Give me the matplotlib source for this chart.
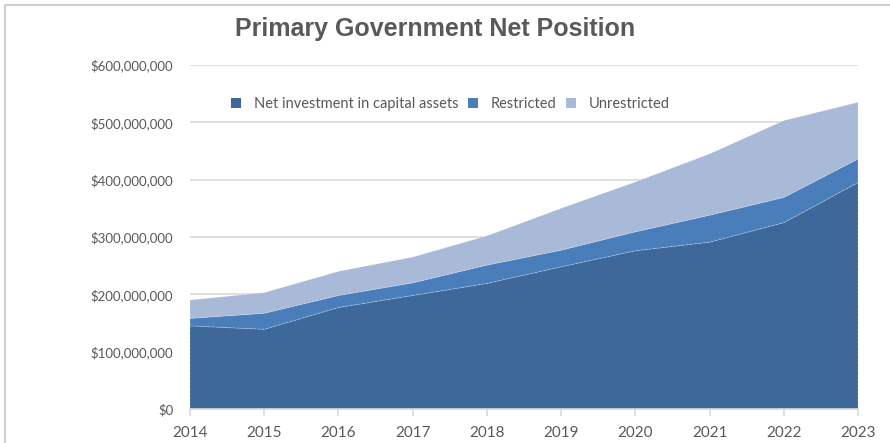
"""Primary government net position, stacked by component."""

import matplotlib

matplotlib.use("Agg")
import matplotlib.pyplot as plt
from matplotlib.patches import Patch, Rectangle
from matplotlib.ticker import FuncFormatter

years = [2014, 2015, 2016, 2017, 2018, 2019, 2020, 2021, 2022, 2023]
# millions of dollars
net_investment = [145, 139, 177, 198, 219, 248, 276, 291, 325, 395]
restricted = [13, 28, 21, 22, 32, 29, 33, 47, 44, 41]
unrestricted = [32, 36, 42, 45, 51, 73, 87, 107, 134, 99]

labels = ["Net investment in capital assets", "Restricted", "Unrestricted"]
colors = ["#3F689A", "#4A7EBB", "#A9B9D8"]

text_grey = "#595959"
grid_grey = "#D9D9D9"

fig = plt.figure(figsize=(8.9, 4.43), dpi=100)
ax = fig.add_axes([190 / 890, 1 - 409 / 443, (858 - 190) / 890, (409 - 65) / 443])

series = [[v * 1e6 for v in s] for s in (net_investment, restricted, unrestricted)]
ax.stackplot(years, *series, colors=colors, edgecolor=(1, 1, 1, 0.35),
             linewidth=0.6, linestyle=(0, (3, 2)), zorder=2)

ax.set_xlim(2014, 2023)
ax.set_ylim(0, 600e6)
ax.set_yticks(range(0, 600000001, 100000000))
ax.set_xticks(years)
ax.yaxis.set_major_formatter(FuncFormatter(lambda v, _: f"${v:,.0f}"))

ax.grid(axis="y", color=grid_grey, linewidth=1.2, zorder=0)
ax.set_axisbelow(True)
for side in ("top", "right", "left"):
    ax.spines[side].set_visible(False)
ax.spines["bottom"].set_color(grid_grey)
ax.spines["bottom"].set_linewidth(1.2)

ax.tick_params(axis="y", length=0, pad=12, labelsize=9.5, labelcolor=text_grey)
ax.tick_params(axis="x", length=5, color=grid_grey, width=1.2, pad=7,
               labelsize=11, labelcolor=text_grey)
for lbl in ax.get_xticklabels() + ax.get_yticklabels():
    lbl.set_family("Lato")

handles = [Patch(facecolor=c, edgecolor="none") for c in colors]
leg = ax.legend(handles, labels, loc="center", bbox_to_anchor=(0.39, 0.887), ncol=3,
                frameon=True, facecolor="white", edgecolor="none", framealpha=1,
                handlelength=0.7, handleheight=0.7, handletextpad=0.9,
                columnspacing=0.6, borderpad=0.5,
                prop={"family": "Lato", "size": 10.5})
for t in leg.get_texts():
    t.set_color(text_grey)
leg.set_zorder(3)

fig.text(0.489, 0.935, "Primary Government Net Position", ha="center", va="center",
         fontsize=18, fontweight="bold", color=text_grey, family="Liberation Sans")

# light chart border
fig.patches.append(Rectangle((5 / 890, -0.01), 1.0, 1 - 5 / 443 + 0.01,
                             transform=fig.transFigure, fill=False,
                             edgecolor="#D0D0D0", linewidth=1.5))

fig.savefig("out.png", dpi=100)
